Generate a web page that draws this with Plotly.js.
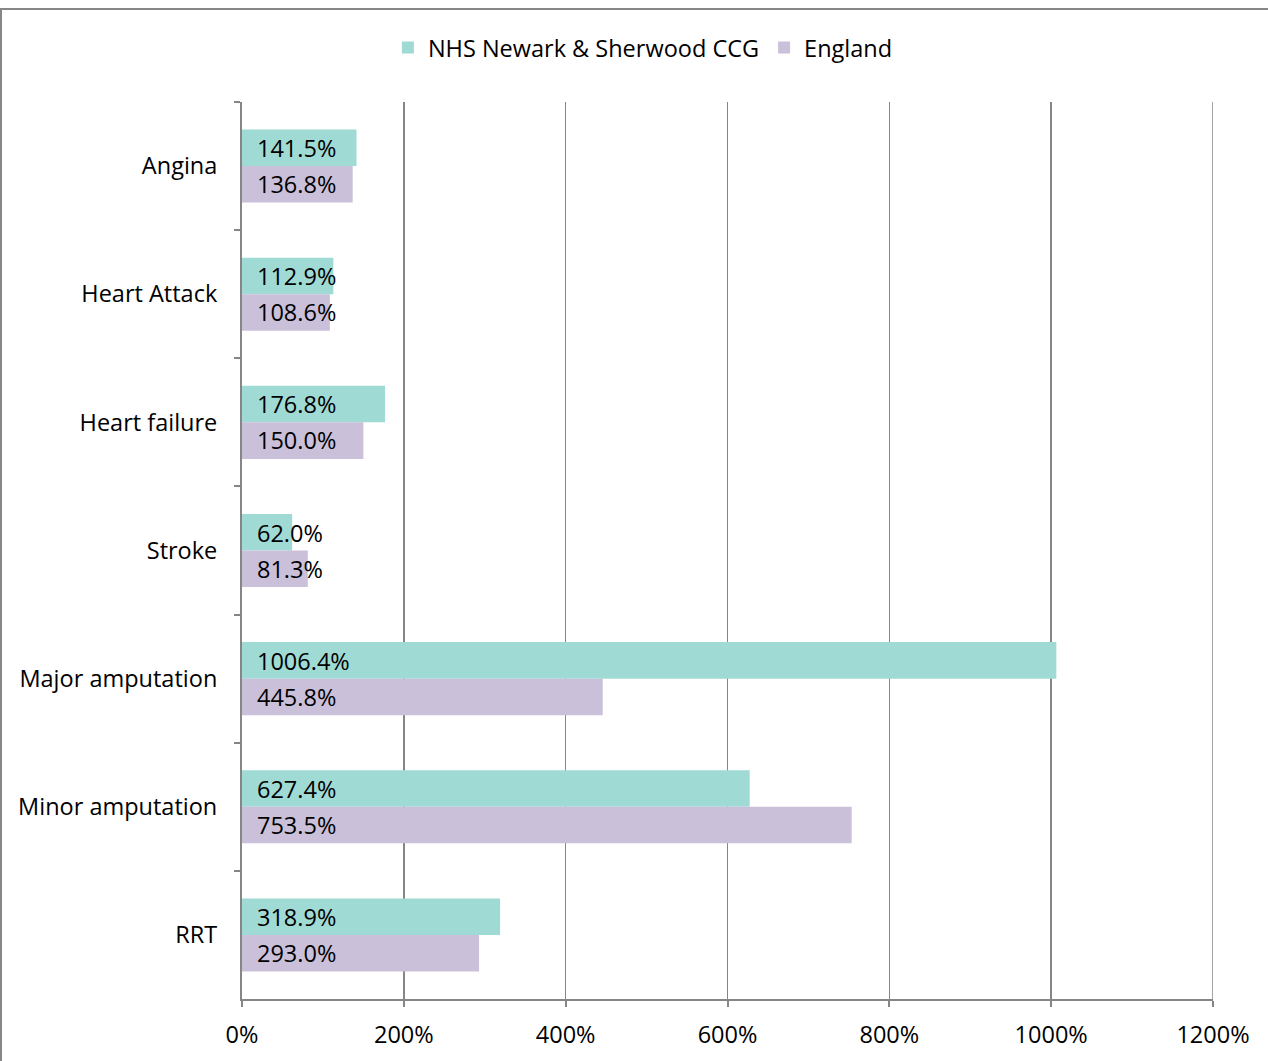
<!DOCTYPE html>
<html>
<head>
<meta charset="utf-8">
<script src="https://cdn.plot.ly/plotly-3.0.1.min.js"></script>
<style>
html,body{margin:0;padding:0;background:#fff;}
#frame{position:absolute;left:0;top:8px;width:1290px;height:1100px;border-top:2px solid #878787;border-left:2px solid #878787;box-sizing:border-box;}
#chart{position:absolute;left:0;top:0;width:1268px;height:1061px;}
</style>
</head>
<body>
<div id="frame"></div>
<div id="chart"></div>
<script>
const categories = ["Angina", "Heart Attack", "Heart failure", "Stroke", "Major amputation", "Minor amputation", "RRT"];
const ccgValues = [141.5, 112.9, 176.8, 62.0, 1006.4, 627.4, 318.9];
const englandValues = [136.8, 108.6, 150.0, 81.3, 445.8, 753.5, 293.0];
const seriesNames = ["NHS Newark & Sherwood CCG", "England"];
const xTickVals = [0, 200, 400, 600, 800, 1000, 1200];
const xTickText = ["0%", "200%", "400%", "600%", "800%", "1000%", "1200%"];

const FONT = "Open Sans, Lato, sans-serif";
const FS = 23.5;
const teal = "#A0DAD4";
const lilac = "#CBC0DA";
const gridGray = "#868686";

const traces = [
  {type: "bar", orientation: "h", name: seriesNames[0], y: categories, x: ccgValues,
   marker: {color: teal}, textposition: "none", hoverinfo: "x+y"},
  {type: "bar", orientation: "h", name: seriesNames[1], y: categories, x: englandValues,
   marker: {color: lilac}, textposition: "none", hoverinfo: "x+y"}
];

const annotations = [];
categories.forEach((c, i) => {
  annotations.push({x: 0, y: c, xref: "x", yref: "y", text: ccgValues[i].toFixed(1) + "%",
    showarrow: false, xanchor: "left", yanchor: "middle", xshift: 13, yshift: 18,
    font: {family: FONT, size: FS, color: "#000"}});
  annotations.push({x: 0, y: c, xref: "x", yref: "y", text: englandValues[i].toFixed(1) + "%",
    showarrow: false, xanchor: "left", yanchor: "middle", xshift: 13, yshift: -18,
    font: {family: FONT, size: FS, color: "#000"}});
});

const xMax = xTickVals[xTickVals.length - 1];

const layout = {
  width: 1268, height: 1061,
  paper_bgcolor: "rgba(0,0,0,0)", plot_bgcolor: "rgba(0,0,0,0)",
  margin: {l: 242, r: 55, t: 102, b: 62},
  font: {family: FONT, size: FS, color: "#000"},
  barmode: "group", bargap: 0.43, bargroupgap: 0,
  showlegend: true,
  legend: {orientation: "h", x: 0.507, xanchor: "center", xref: "container", yref: "container", yanchor: "middle",
    y: 0.955, font: {family: FONT, size: FS, color: "#000"}, tracegroupgap: 0},
  xaxis: {range: [0, xMax], tickvals: xTickVals, ticktext: xTickText, showgrid: true,
    gridcolor: gridGray, gridwidth: 1.5, showline: true, linecolor: gridGray, linewidth: 2,
    ticks: "outside", ticklen: 6, tickcolor: gridGray, tickwidth: 2, zeroline: false,
    ticklabelstandoff: 8,
    tickfont: {family: FONT, size: FS, color: "#000"}, fixedrange: true},
  yaxis: {type: "category", categoryorder: "array", categoryarray: categories, autorange: "reversed",
    showline: true, linecolor: gridGray, linewidth: 2, ticks: "outside", ticklen: 6,
    tickcolor: gridGray, tickwidth: 2, tickson: "boundaries", showgrid: false,
    ticklabelstandoff: 18, tickfont: {family: FONT, size: FS, color: "#000"}, fixedrange: true},
  shapes: [{type: "line", xref: "x", yref: "paper", x0: xMax, x1: xMax, y0: 0, y1: 1,
    line: {color: gridGray, width: 1.5}, layer: "below"}],
  annotations: annotations
};

Plotly.newPlot("chart", traces, layout, {displayModeBar: false, staticPlot: true});
</script>
</body>
</html>
